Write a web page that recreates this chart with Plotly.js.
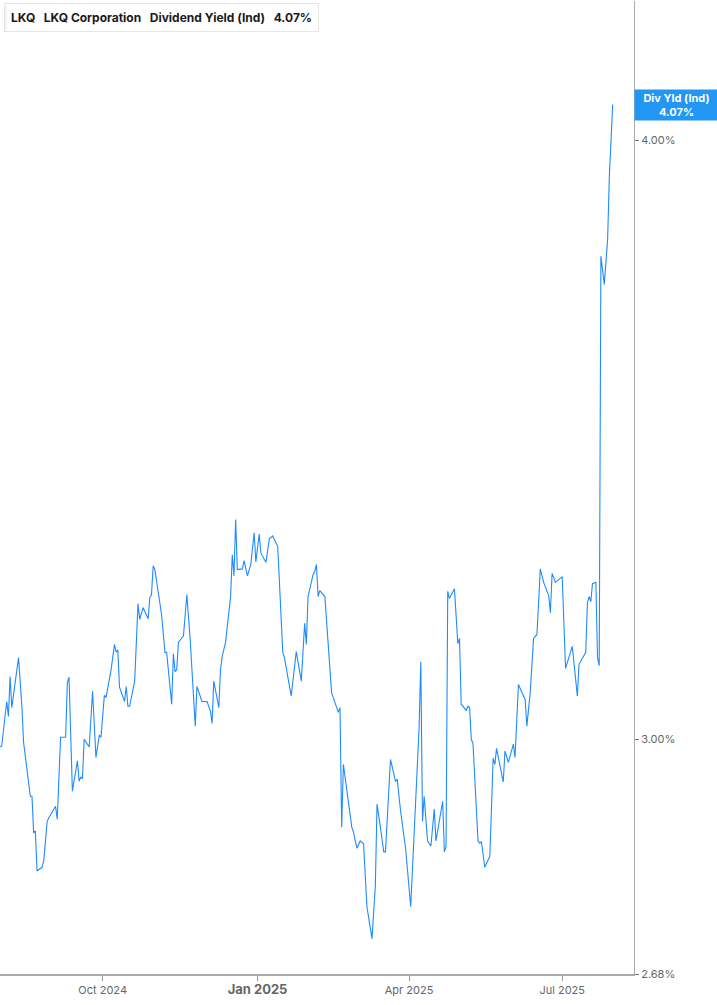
<!DOCTYPE html>
<html>
<head>
<meta charset="utf-8">
<script src="https://cdn.plot.ly/plotly-3.0.1.min.js"></script>
<style>
  html, body { margin: 0; padding: 0; background: #fff; }
  #chart { width: 717px; height: 1005px; }
</style>
</head>
<body>
<div id="chart"></div>
<script>
// LKQ dividend yield (Ind), %
const dates = [
  '2024-08-01','2024-08-02','2024-08-05','2024-08-06','2024-08-07','2024-08-08','2024-08-12','2024-08-14','2024-08-15',
  '2024-08-19','2024-08-20','2024-08-21','2024-08-22','2024-08-23','2024-08-26','2024-08-27','2024-08-29','2024-08-30',
  '2024-09-03','2024-09-04','2024-09-06','2024-09-09','2024-09-10','2024-09-11','2024-09-13','2024-09-16','2024-09-17',
  '2024-09-18','2024-09-19','2024-09-20','2024-09-23','2024-09-25','2024-09-27','2024-09-29','2024-09-30',
  '2024-10-02','2024-10-03','2024-10-06','2024-10-08','2024-10-09','2024-10-10','2024-10-11','2024-10-14','2024-10-15',
  '2024-10-16','2024-10-17','2024-10-20','2024-10-22','2024-10-23','2024-10-25','2024-10-28','2024-10-29','2024-10-30','2024-10-31',
  '2024-11-01','2024-11-04','2024-11-05','2024-11-07','2024-11-08','2024-11-11','2024-11-12','2024-11-13','2024-11-14',
  '2024-11-15','2024-11-18','2024-11-20','2024-11-22','2024-11-25','2024-11-26','2024-11-29',
  '2024-12-02','2024-12-04','2024-12-05','2024-12-06','2024-12-09','2024-12-10','2024-12-11','2024-12-13','2024-12-16',
  '2024-12-17','2024-12-18','2024-12-19','2024-12-20','2024-12-23','2024-12-24','2024-12-26','2024-12-28','2024-12-30','2024-12-31',
  '2025-01-02','2025-01-03','2025-01-06','2025-01-08','2025-01-10','2025-01-13','2025-01-16','2025-01-17','2025-01-21',
  '2025-01-24','2025-01-27','2025-01-29','2025-01-30','2025-01-31',
  '2025-02-03','2025-02-04','2025-02-05','2025-02-06','2025-02-07','2025-02-10','2025-02-14','2025-02-18','2025-02-19',
  '2025-02-20','2025-02-21','2025-02-24','2025-02-26','2025-02-27',
  '2025-03-01','2025-03-03','2025-03-05','2025-03-07','2025-03-10','2025-03-12','2025-03-13','2025-03-15','2025-03-17',
  '2025-03-18','2025-03-21','2025-03-24','2025-03-25','2025-03-27','2025-03-30',
  '2025-04-02','2025-04-05','2025-04-07','2025-04-08','2025-04-09','2025-04-10','2025-04-12','2025-04-14','2025-04-16',
  '2025-04-17','2025-04-21','2025-04-22','2025-04-23','2025-04-24','2025-04-25','2025-04-28','2025-04-30',
  '2025-05-01','2025-05-02','2025-05-05','2025-05-06','2025-05-07','2025-05-08','2025-05-09','2025-05-12','2025-05-13',
  '2025-05-14','2025-05-16','2025-05-19','2025-05-21','2025-05-22','2025-05-23','2025-05-27','2025-05-28','2025-05-30',
  '2025-06-02','2025-06-03','2025-06-05','2025-06-07','2025-06-09','2025-06-10','2025-06-12','2025-06-14','2025-06-16',
  '2025-06-18','2025-06-20','2025-06-23','2025-06-24','2025-06-25','2025-06-27',
  '2025-07-01','2025-07-02','2025-07-03','2025-07-07','2025-07-10','2025-07-11','2025-07-15','2025-07-16','2025-07-17',
  '2025-07-18','2025-07-19','2025-07-21','2025-07-22','2025-07-23','2025-07-24','2025-07-26','2025-07-27','2025-07-28',
  '2025-07-29','2025-07-30','2025-07-31'
];

const yields = [
  2.989,2.990,3.055,3.033,3.092,3.046,3.120,3.048,2.996,
  2.919,2.919,2.868,2.871,2.816,2.821,2.830,2.884,2.889,
  2.905,2.887,3.003,3.003,3.083,3.091,2.926,2.969,2.940,
  2.946,2.944,3.000,2.989,3.070,2.974,3.006,3.003,
  3.064,3.061,3.102,3.140,3.128,3.132,3.076,3.055,3.077,
  3.048,3.048,3.085,3.202,3.178,3.196,3.179,3.211,3.216,3.261,
  3.255,3.196,3.185,3.128,3.128,3.051,3.126,3.099,3.102,
  3.143,3.153,3.216,3.147,3.019,3.077,3.055,
  3.055,3.041,3.023,3.085,3.046,3.102,3.122,3.143,3.213,
  3.278,3.245,3.334,3.255,3.256,3.269,3.245,3.263,3.313,3.267,
  3.311,3.281,3.266,3.303,3.308,3.291,3.128,3.120,3.063,
  3.129,3.085,3.172,3.140,3.213,
  3.247,3.252,3.263,3.213,3.222,3.213,3.068,3.039,3.046,
  2.876,2.964,2.911,2.876,2.869,
  2.847,2.857,2.853,2.768,2.726,2.796,2.908,2.876,2.842,
  2.842,2.971,2.940,2.943,2.898,2.846,
  2.768,2.905,3.017,3.114,2.884,2.919,2.857,2.850,2.901,
  2.857,2.912,2.842,2.849,3.221,3.210,3.225,3.141,
  3.149,3.051,3.042,3.048,3.046,3.000,2.994,2.857,2.854,
  2.856,2.821,2.836,2.973,2.964,2.987,2.939,2.983,2.967,
  2.993,2.974,3.080,3.068,3.058,3.019,3.068,3.149,3.155,
  3.256,3.235,3.214,3.188,3.249,3.235,
  3.244,3.160,3.104,3.137,3.063,3.110,3.128,3.204,3.213,
  3.205,3.233,3.235,3.120,3.108,3.784,3.733,3.773,3.815,
  3.930,3.987,4.070
];

const yTickVals = [2.68, 3.00, 4.00];
const yTickText = ['2.68%', '3.00%', '4.00%'];
const xTickVals = ['2024-10-01', '2025-01-01', '2025-04-01', '2025-07-01'];
const xTickText = ['Oct 2024', '<span style="font-size:13px"><b>Jan 2025</b></span>', 'Apr 2025', 'Jul 2025'];

const lastYield = yields[yields.length - 1];
const lineColor = '#1f8bff';

const trace = {
  x: dates,
  y: yields,
  type: 'scatter',
  mode: 'lines',
  line: { color: lineColor, width: 1.1 },
  hoverinfo: 'x+y'
};

const layout = {
  width: 717,
  height: 1005,
  margin: { t: 1, l: 0, r: 83, b: 31 },
  paper_bgcolor: '#ffffff',
  plot_bgcolor: '#ffffff',
  showlegend: false,
  font: { family: 'Inter, "Open Sans", sans-serif', size: 11, color: '#666' },
  xaxis: {
    type: 'date',
    range: ['2024-08-01', '2025-08-12 16:00'],
    tickvals: xTickVals,
    ticktext: xTickText,
    ticks: 'outside',
    ticklen: 5,
    tickcolor: '#999',
    showgrid: false,
    zeroline: false,
    showline: true,
    linecolor: '#aaa',
    linewidth: 2,
    tickfont: { size: 11, color: '#666' }
  },
  yaxis: {
    type: 'log',
    side: 'right',
    range: [Math.log10(2.68), 0.6312],
    tickvals: yTickVals,
    ticktext: yTickText,
    ticks: 'outside',
    ticklen: 4,
    tickcolor: '#777',
    showgrid: false,
    zeroline: false,
    showline: true,
    linecolor: '#aaa',
    linewidth: 1,
    tickfont: { size: 11, color: '#666' }
  },
  shapes: [
    // blue marker bar of the title box
    { type: 'rect', xref: 'paper', yref: 'paper',
      x0: 4 / 634, x1: 7 / 634, y0: 1 - 29 / 973, y1: 1 - 5 / 973,
      fillcolor: lineColor, line: { width: 0 } }
  ],
  annotations: [
    {
      xref: 'paper', yref: 'paper', x: 4 / 634, y: 1 - 2 / 973,
      xanchor: 'left', yanchor: 'top', showarrow: false, align: 'left',
      text: '<b>LKQ   LKQ Corporation   Dividend Yield (Ind)   4.07%</b>',
      font: { size: 12, color: '#1a1a1a', family: 'Inter, sans-serif' },
      bgcolor: 'rgba(255,255,255,0.9)', bordercolor: '#e6e6e6', borderwidth: 1, borderpad: 6
    },
    {
      xref: 'paper', yref: 'y', x: 1, y: Math.log10(lastYield),
      xanchor: 'left', yanchor: 'middle', showarrow: false,
      width: 81, height: 28, align: 'center',
      text: '<b>Div Yld (Ind)</b><br><b>' + lastYield.toFixed(2) + '%</b>',
      font: { size: 11, color: '#ffffff', family: 'Inter, sans-serif' },
      bgcolor: '#2196f3', borderpad: 1
    }
  ]
};

Plotly.newPlot('chart', [trace], layout, { displayModeBar: false, staticPlot: true });
</script>
</body>
</html>
